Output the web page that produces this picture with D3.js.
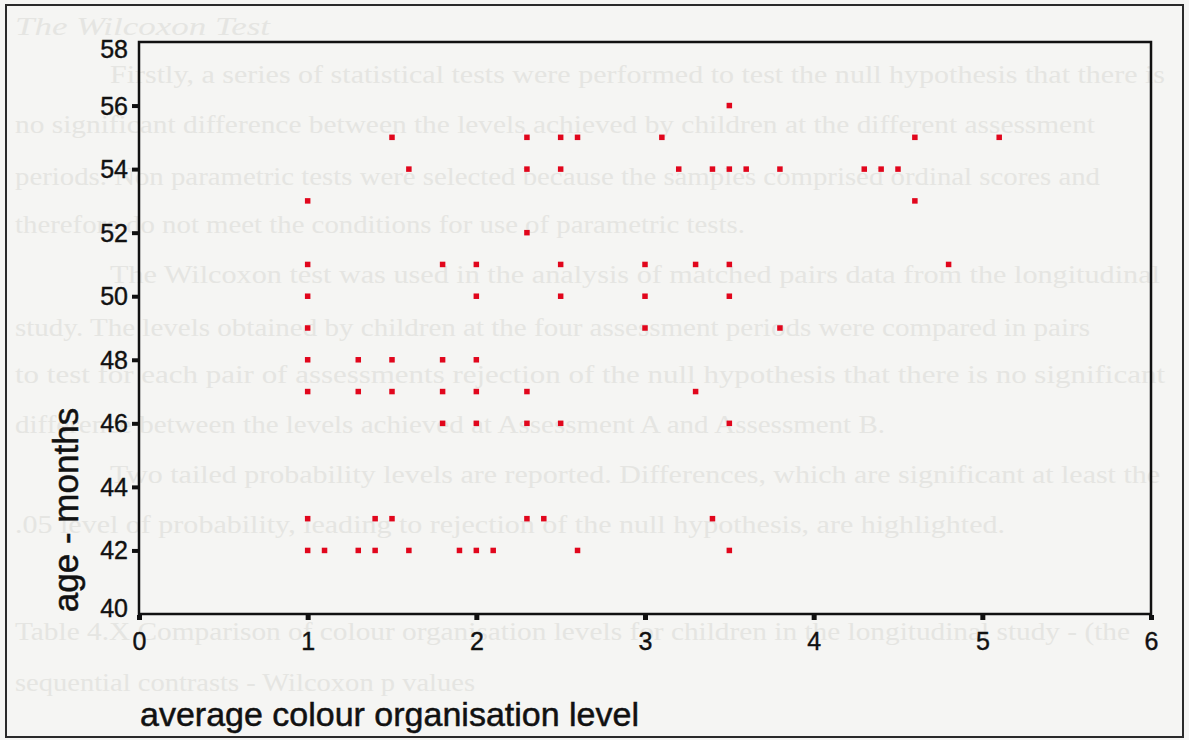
<!DOCTYPE html>
<html>
<head>
<meta charset="utf-8">
<script src="https://cdn.jsdelivr.net/npm/d3@7"></script>
<style>
  html, body { margin: 0; padding: 0; background: #f5f5f3; }
  svg { display: block; }
</style>
</head>
<body>
<svg id="chart" width="1189" height="740"></svg>
<script>
// ---- data ----
const xValues = [
  3.5,
  1.5, 2.3, 2.5, 2.6, 3.1, 4.6, 5.1,
  1.6, 2.3, 2.5, 3.2, 3.4, 3.5, 3.6, 3.8, 4.3, 4.4, 4.5,
  1.0, 4.6,
  2.3,
  1.0, 1.8, 2.0, 2.5, 3.0, 3.3, 3.5, 4.8,
  1.0, 2.0, 2.5, 3.0, 3.5,
  1.0, 3.0, 3.8,
  1.0, 1.3, 1.5, 1.8, 2.0,
  1.0, 1.3, 1.5, 1.8, 2.0, 2.3, 3.3,
  1.8, 2.0, 2.3, 2.5, 3.5,
  1.0, 1.4, 1.5, 2.3, 2.4, 3.4,
  1.0, 1.1, 1.3, 1.4, 1.6, 1.9, 2.0, 2.1, 2.6, 3.5
];
const yValues = [
  56,
  55, 55, 55, 55, 55, 55, 55,
  54, 54, 54, 54, 54, 54, 54, 54, 54, 54, 54,
  53, 53,
  52,
  51, 51, 51, 51, 51, 51, 51, 51,
  50, 50, 50, 50, 50,
  49, 49, 49,
  48, 48, 48, 48, 48,
  47, 47, 47, 47, 47, 47, 47,
  46, 46, 46, 46, 46,
  43, 43, 43, 43, 43, 43,
  42, 42, 42, 42, 42, 42, 42, 42, 42, 42
];
const xTicks = [0, 1, 2, 3, 4, 5, 6];
const yTicks = [40, 42, 44, 46, 48, 50, 52, 54, 56, 58];
const xTitle = "average colour organisation level";
const yTitle = "age - months";

// faint show-through text of the scanned page
const ghostLines = [
  "The Wilcoxon Test",
  "Firstly, a series of statistical tests were performed to test the null hypothesis that there is",
  "no significant difference between the levels achieved by children at the different assessment",
  "periods. Non parametric tests were selected because the samples comprised ordinal scores and",
  "therefore do not meet the conditions for use of parametric tests.",
  "The Wilcoxon test was used in the analysis of matched pairs data from the longitudinal",
  "study. The levels obtained by children at the four assessment periods were compared in pairs",
  "to test for each pair of assessments rejection of the null hypothesis that there is no significant",
  "difference between the levels achieved at Assessment A and Assessment B.",
  "Two tailed probability levels are reported. Differences, which are significant at least the",
  ".05 level of probability, leading to rejection of the null hypothesis, are highlighted.",
  "Table 4.X Comparison of colour organisation levels for children in the longitudinal study - (the",
  "sequential contrasts - Wilcoxon p values"
];
const ghostY = [27, 75, 125, 177, 225, 275, 328, 375, 425, 475, 525, 632, 683];
const ghostX0 = [15, 110, 15, 15, 15, 110, 15, 15, 15, 110, 15, 15, 15];
const ghostX1 = [270, 1165, 1095, 1100, 745, 1160, 1090, 1165, 885, 1160, 1005, 1130, 475];

// ---- drawing ----
const svg = d3.select("#chart");
const W = 1189, H = 740;
const mLeft = 139, mRight = 1151, mTop = 42, mBottom = 614;
const font = "Arial, 'Liberation Sans', sans-serif";

svg.append("rect").attr("width", W).attr("height", H).attr("fill", "#f5f5f3");

// ghost text
const ghost = svg.append("g").attr("fill", "#e5e5e2")
  .attr("font-family", "'Liberation Serif', 'DejaVu Serif', serif")
  .attr("font-size", 25);
ghostLines.forEach((t, i) => {
  ghost.append("text")
    .attr("x", ghostX0[i]).attr("y", ghostY[i] + 8)
    .attr("textLength", ghostX1[i] - ghostX0[i])
    .attr("lengthAdjust", "spacingAndGlyphs")
    .attr("font-style", i === 0 ? "italic" : "normal")
    .text(t);
});

// outer frame of the scanned figure
svg.append("rect")
  .attr("x", 6).attr("y", 5).attr("width", 1177).attr("height", 732)
  .attr("fill", "none").attr("stroke", "#2a2a2a").attr("stroke-width", 2);

const x = d3.scaleLinear().domain([0, 6]).range([mLeft, mRight]);
const y = d3.scaleLinear().domain([40, 58]).range([mBottom, mTop]);

// plot frame
svg.append("rect")
  .attr("x", mLeft).attr("y", mTop).attr("width", mRight - mLeft).attr("height", mBottom - mTop)
  .attr("fill", "none").attr("stroke", "#111").attr("stroke-width", 2.5);

// y axis
const yAxis = svg.append("g")
  .attr("transform", `translate(${mLeft},0)`)
  .call(d3.axisLeft(y).tickValues(yTicks).tickFormat(d3.format("d")).tickSize(7).tickPadding(4));
yAxis.select(".domain").remove();
yAxis.selectAll(".tick line")
  .attr("stroke", "#111").attr("stroke-width", 4)
  .attr("display", d => (d === 40 || d === 58) ? "none" : null);
yAxis.selectAll(".tick text")
  .attr("fill", "#111").attr("stroke", "#111").attr("stroke-width", 0.4)
  .attr("font-family", font)
  .attr("font-size", 25)
  .attr("dy", d => d === 58 ? "0.6em" : (d === 40 ? "0.1em" : "0.34em"));

// x axis
const xAxis = svg.append("g")
  .attr("transform", `translate(0,${mBottom})`)
  .call(d3.axisBottom(x).tickValues(xTicks).tickFormat(d3.format("d")).tickSize(6).tickPadding(4));
xAxis.select(".domain").remove();
xAxis.selectAll(".tick line").attr("stroke", "#111").attr("stroke-width", 5).attr("y1", 1);
xAxis.selectAll(".tick text")
  .attr("fill", "#111").attr("stroke", "#111").attr("stroke-width", 0.4)
  .attr("font-family", font)
  .attr("font-size", 25)
  .attr("y", 36).attr("dy", 0);

// axis titles
svg.append("text")
  .attr("x", 140).attr("y", 726)
  .attr("font-family", font)
  .attr("font-size", 34).attr("fill", "#111").attr("stroke", "#111").attr("stroke-width", 0.5)
  .text(xTitle);

svg.append("text")
  .attr("transform", "translate(78,510) rotate(-90)")
  .attr("text-anchor", "middle")
  .attr("font-family", font)
  .attr("font-size", 35).attr("fill", "#111").attr("stroke", "#111").attr("stroke-width", 0.5)
  .text(yTitle);

// points
const pts = xValues.map((v, i) => ({ x: v, y: yValues[i] }));
const s = 5.5;
svg.append("g").selectAll("rect")
  .data(pts).join("rect")
  .attr("x", d => x(d.x) - s / 2)
  .attr("y", d => y(d.y) - s / 2)
  .attr("width", s).attr("height", s)
  .attr("fill", "#e1061c");
</script>
</body>
</html>
